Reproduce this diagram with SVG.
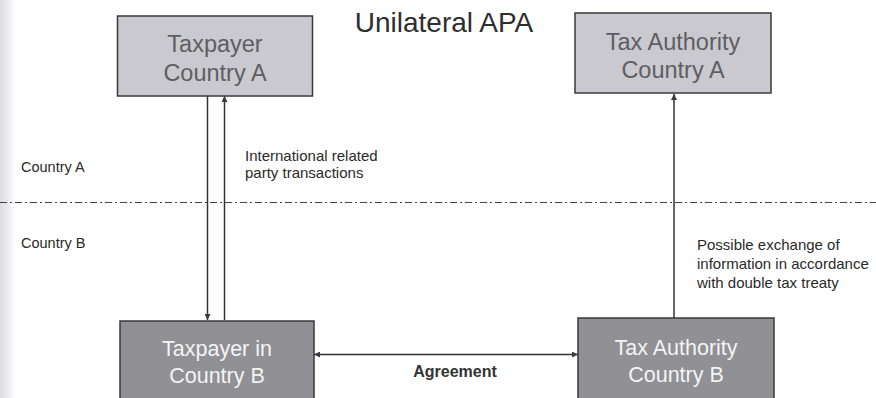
<svg xmlns="http://www.w3.org/2000/svg" width="876" height="398" viewBox="0 0 876 398">
  <style>
    text { font-family: "Liberation Sans", Arial, sans-serif; }
    .boxA { fill: #c9c9cf; stroke: #3a3a3a; stroke-width: 1.5; }
    .boxB { fill: #909095; stroke: #3a3a3a; stroke-width: 1.5; }
    .tA { font-size: 23.5px; fill: #5e5e62; text-anchor: middle; }
    .tB { font-size: 21.5px; fill: #f4f4f4; text-anchor: middle; }
    .lbl { font-size: 15px; fill: #2a2a2a; }
    .side { font-size: 14.5px; fill: #2a2a2a; }
    .conn { stroke: #333; stroke-width: 1.5; fill: none; }
  </style>
  <defs>
    <marker id="ah" viewBox="0 0 10 10" refX="10" refY="5" markerWidth="7" markerHeight="6" orient="auto-start-reverse" markerUnits="userSpaceOnUse">
      <path d="M0,0 L10,5 L0,10 z" fill="#3a3a3a"/>
    </marker>
    <linearGradient id="edge" x1="0" x2="1" y1="0" y2="0">
      <stop offset="0" stop-color="#dcdce2"/>
      <stop offset="1" stop-color="#ffffff"/>
    </linearGradient>
  </defs>
  <rect x="0" y="0" width="876" height="398" fill="#ffffff"/>
  <rect x="0" y="0" width="16" height="398" fill="url(#edge)"/>

  <text x="444" y="32" font-size="28" fill="#2e2e2e" text-anchor="middle">Unilateral APA</text>

  <line x1="0" y1="202.5" x2="876" y2="202.5" stroke="#444" stroke-width="1.2" stroke-dasharray="7 3 2 3"/>

  <text class="side" x="21" y="172">Country A</text>
  <text class="side" x="21" y="248">Country B</text>

  <g id="connectors">
    <line class="conn" x1="207.5" y1="96" x2="207.5" y2="320" marker-end="url(#ah)"/>
    <line class="conn" x1="224.5" y1="320" x2="224.5" y2="96" marker-end="url(#ah)"/>
    <line class="conn" x1="674" y1="318" x2="674" y2="94" marker-end="url(#ah)"/>
    <line class="conn" x1="314" y1="354.5" x2="578" y2="354.5" marker-start="url(#ah)" marker-end="url(#ah)"/>
    <text class="lbl" x="245" y="161">International related</text>
    <text class="lbl" x="245" y="178">party transactions</text>
    <text class="lbl" x="697" y="250">Possible exchange of</text>
    <text class="lbl" x="697" y="269">information in accordance</text>
    <text class="lbl" x="697" y="288">with double tax treaty</text>
    <text x="455" y="377" font-size="16" font-weight="bold" fill="#333" text-anchor="middle">Agreement</text>
  </g>

  <g id="taxpayer-a">
    <rect class="boxA" x="117.5" y="16" width="195" height="80"/>
    <text class="tA" x="215" y="52">Taxpayer</text>
    <text class="tA" x="215" y="81">Country A</text>
  </g>

  <g id="tax-authority-a">
    <rect class="boxA" x="575" y="13" width="196" height="80"/>
    <text class="tA" x="673" y="50">Tax Authority</text>
    <text class="tA" x="673" y="78">Country A</text>
  </g>

  <g id="taxpayer-b">
    <rect class="boxB" x="120" y="321" width="194" height="90"/>
    <text class="tB" x="217" y="356">Taxpayer in</text>
    <text class="tB" x="217" y="383">Country B</text>
  </g>

  <g id="tax-authority-b">
    <rect class="boxB" x="578" y="318" width="196" height="90"/>
    <text class="tB" x="676" y="355">Tax Authority</text>
    <text class="tB" x="676" y="382">Country B</text>
  </g>
</svg>
